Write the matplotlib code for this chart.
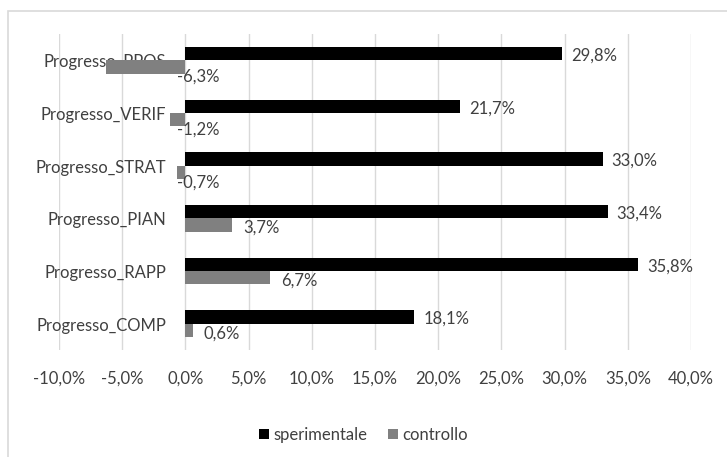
import numpy as np
import matplotlib
matplotlib.use("Agg")
import matplotlib.pyplot as plt
from matplotlib.patches import Rectangle

plt.rcParams['font.family'] = ['Lato', 'DejaVu Sans']

categorie = ['Progresso_PPOS', 'Progresso_VERIF', 'Progresso_STRAT',
             'Progresso_PIAN', 'Progresso_RAPP', 'Progresso_COMP']
sperimentale = [29.8, 21.7, 33.0, 33.4, 35.8, 18.1]
controllo = [-6.3, -1.2, -0.7, 3.7, 6.7, 0.6]

def pct(v):
    return ('%.1f%%' % v).replace('.', ',')

fs = 12
fig = plt.figure(figsize=(7.27, 4.57), dpi=100)
fig.patches.append(Rectangle((8/727, -0.1), 1.2, 1 - 11/457 + 0.1, transform=fig.transFigure,
                             fill=False, edgecolor='#d9d9d9', lw=1.2))
ax = fig.add_axes([59/727, (457-350)/457, (691-59)/727, (350-34)/457])

y = np.arange(len(categorie))
h = 0.252
ax.barh(y - h/2, sperimentale, height=h, color='black', zorder=2, label='sperimentale')
ax.barh(y + h/2, controllo, height=h, color='#808080', zorder=2, label='controllo')

for i, (s, c) in enumerate(zip(sperimentale, controllo)):
    ax.annotate(pct(s), (s, i - h/2), xytext=(9, -2), textcoords='offset pixels',
                ha='left', va='center', fontsize=fs, color='#404040')
    if c >= 0:
        ax.annotate(pct(c), (c, i + h/2), xytext=(11, -3), textcoords='offset pixels',
                    ha='left', va='center', fontsize=fs, color='#404040')
    else:
        ax.annotate(pct(c), (0, i + h/2), xytext=(-8, -10), textcoords='offset pixels',
                    ha='left', va='center', fontsize=fs, color='#404040')
    ax.annotate(categorie[i], (0, i), xytext=(-19, -2), textcoords='offset pixels',
                ha='right', va='center', fontsize=fs, color='#404040', zorder=1)

ax.set_xlim(-10, 40)
ax.set_ylim(5.5, -0.5)
ticks = np.arange(-10, 41, 5)
ax.set_xticks(ticks)
ax.set_xticklabels([pct(t) for t in ticks], fontsize=fs, color='#404040')
ax.set_yticks([])
ax.tick_params(axis='x', length=0, pad=15)
ax.grid(axis='x', color='#d9d9d9', lw=1)
ax.set_axisbelow(True)
for sp in ax.spines.values():
    sp.set_visible(False)

fig.legend(loc='center', bbox_to_anchor=(0.5, 1 - 435/457), ncol=2, frameon=False,
           fontsize=fs, handlelength=0.6, handleheight=0.6, handletextpad=0.3,
           columnspacing=1.2, labelcolor='#404040')

fig.savefig('out.png', dpi=100)
